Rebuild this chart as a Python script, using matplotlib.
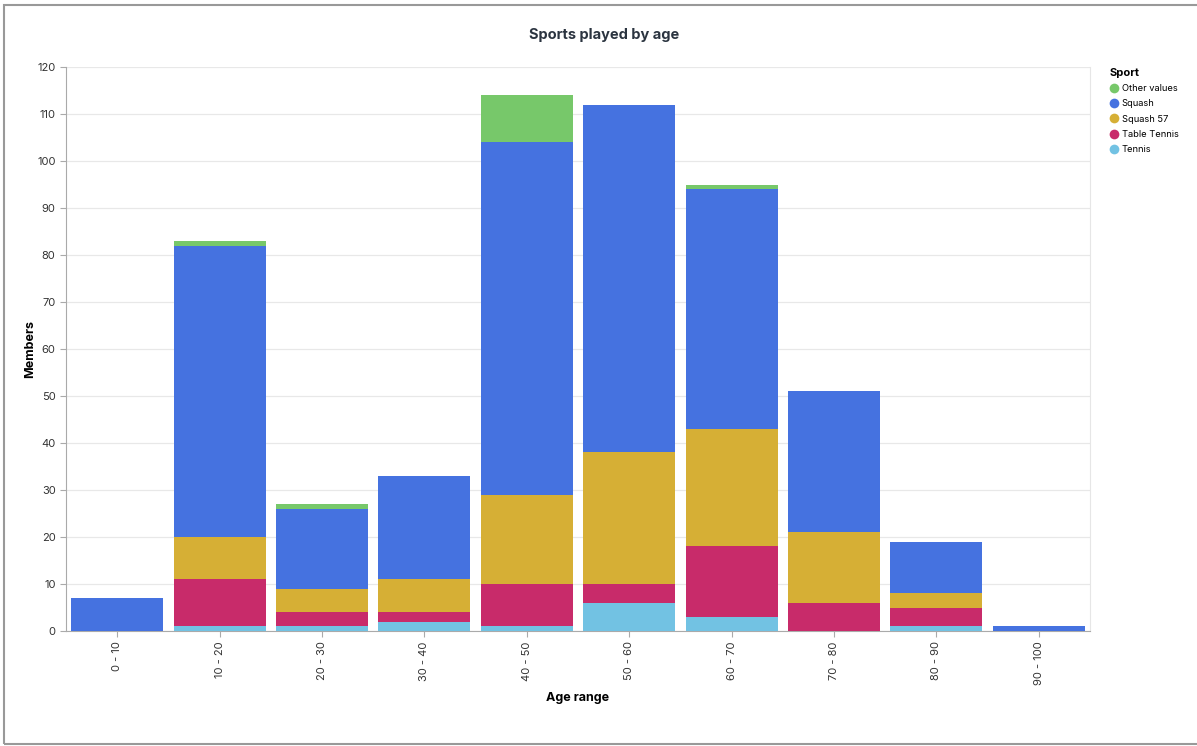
import numpy as np
import matplotlib
matplotlib.use("Agg")
import matplotlib.pyplot as plt
from matplotlib.lines import Line2D
from matplotlib.patches import Rectangle

plt.rcParams['font.family'] = ['Inter', 'DejaVu Sans']

# data
age_ranges = ["0 - 10", "10 - 20", "20 - 30", "30 - 40", "40 - 50",
              "50 - 60", "60 - 70", "70 - 80", "80 - 90", "90 - 100"]
tennis = [0, 1, 1, 2, 1, 6, 3, 0, 1, 0]
table_tennis = [0, 10, 3, 2, 9, 4, 15, 6, 4, 0]
squash_57 = [0, 9, 5, 7, 19, 28, 25, 15, 3, 0]
squash = [7, 62, 17, 22, 75, 74, 51, 30, 11, 1]
other_values = [0, 1, 1, 0, 10, 0, 1, 0, 0, 0]

# bottom to top stacking order
stack = [
    ("Tennis", tennis, "#72c2e3"),
    ("Table Tennis", table_tennis, "#c82b6a"),
    ("Squash 57", squash_57, "#d6af35"),
    ("Squash", squash, "#4572e0"),
    ("Other values", other_values, "#77c86a"),
]
legend_order = ["Other values", "Squash", "Squash 57", "Table Tennis", "Tennis"]

fig = plt.figure(figsize=(11.97, 7.46), dpi=100)
ax = fig.add_axes([66 / 1197, 1 - 631 / 746, (1090 - 66) / 1197, (631 - 67) / 746])

x = np.arange(len(age_ranges))
bottom = np.zeros(len(age_ranges))
for name, vals, color in stack:
    vals = np.array(vals, dtype=float)
    ax.bar(x, vals, bottom=bottom, width=0.9, color=color, edgecolor="none", zorder=3)
    bottom += vals

ax.set_xlim(-0.5, len(age_ranges) - 0.5)
ax.set_ylim(0, 120)
ax.set_yticks(np.arange(0, 121, 10))
ax.set_xticks(x)
ax.set_xticklabels(age_ranges, rotation=90, ha="center", va="top")
ax.tick_params(axis="both", labelsize=8, labelcolor="#333333", length=4, width=0.8,
               color="#aaaaaa")
ax.grid(axis="y", color="#e8e8e8", linewidth=0.9, zorder=0)

ax.spines["top"].set_visible(False)
ax.spines["right"].set_color("#e6e6e6")
ax.spines["left"].set_color("#aaaaaa")
ax.spines["bottom"].set_color("#aaaaaa")

ax.set_xlabel("Age range", fontsize=9, fontweight="bold", labelpad=5)
ax.set_ylabel("Members", fontsize=9, fontweight="bold", labelpad=1)

fig.text(604 / 1197, 1 - 35 / 746, "Sports played by age", ha="center", va="center",
         fontsize=10.5, fontweight="bold", color="#2b3440")

colors = {n: c for n, _, c in stack}
handles = [Line2D([0], [0], marker="o", linestyle="none", markersize=7,
                  markerfacecolor=colors[n], markeredgecolor="none", label=n)
           for n in legend_order]
leg = fig.legend(handles=handles, title="Sport", loc="upper left",
                 bbox_to_anchor=(1106 / 1197, 1 - 64 / 746), frameon=False,
                 fontsize=6.7, title_fontsize=8, handletextpad=0.3,
                 labelspacing=0.68, borderaxespad=0, handlelength=1.0)
leg.get_title().set_fontweight("bold")
leg._legend_box.align = "left"

# outer gray frame
fig.patches.append(Rectangle((4 / 1197, 2 / 746), 1.2, 1 - 7 / 746,
                             transform=fig.transFigure, fill=False,
                             edgecolor="#999999", linewidth=1.5))

fig.savefig("out.png", dpi=100)
